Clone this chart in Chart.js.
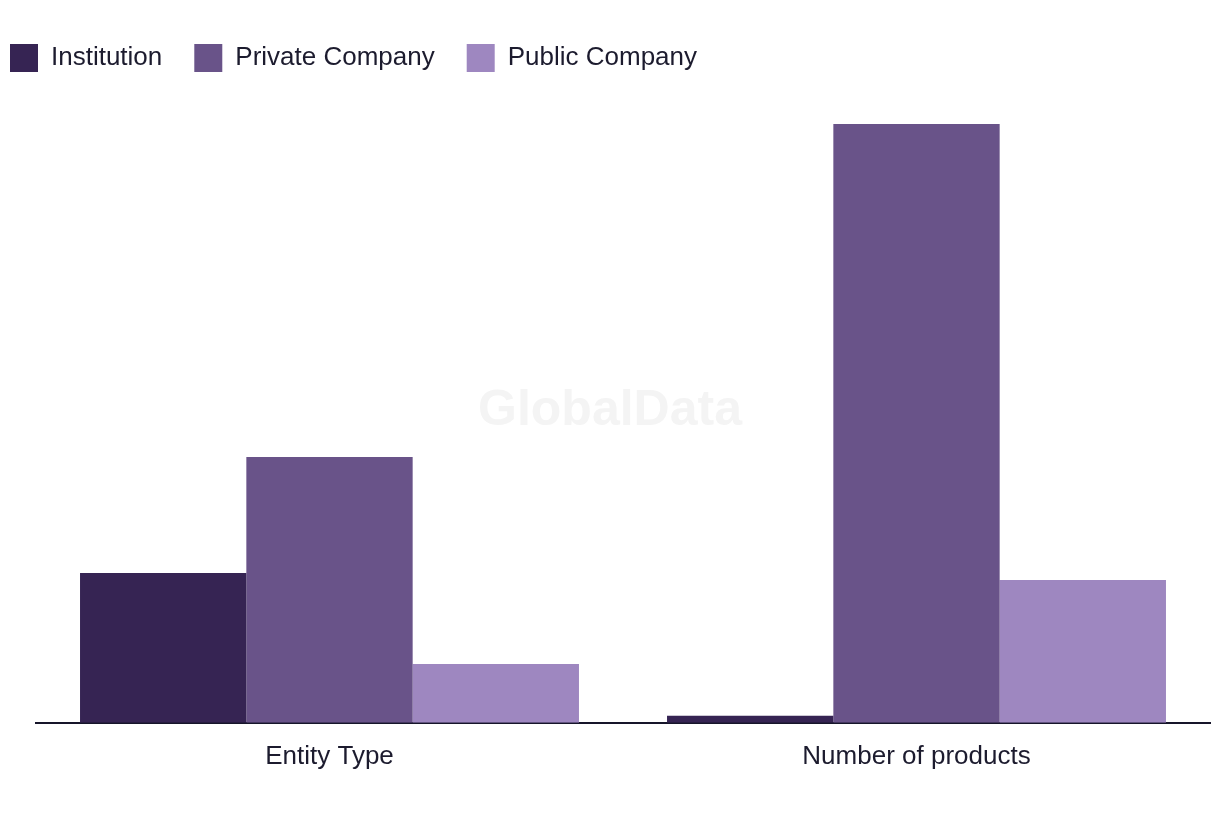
<!DOCTYPE html>
<html>
<head>
<meta charset="utf-8">
<script src="https://cdn.jsdelivr.net/npm/chart.js@4/dist/chart.umd.min.js"></script>
<style>
  html, body { margin: 0; padding: 0; background: #fff; }
  #wrap { width: 1220px; height: 820px; position: relative; }
</style>
</head>
<body>
<div id="wrap"><canvas id="entityChart"></canvas></div>
<script>
// categories and series (no axis shown so these are relative estimates)
const categories = ['Entity Type', 'Number of products'];
const seriesNames = ['Institution', 'Private Company', 'Public Company'];
const institution = [21.4, 1];
const privateCompany = [38, 85.6];
const publicCompany = [8.4, 20.4];

const colors = ['#362453', '#695389', '#9e87c0'];
const textColor = '#1c1b2e';

// faint watermark in the middle of the plot
const watermark = {
    id: 'watermark',
    beforeDatasetsDraw(chart) {
        const ctx = chart.ctx;
        ctx.save();
        ctx.font = 'bold 50px "Liberation Sans", Arial, sans-serif';
        ctx.fillStyle = '#f4f4f4';
        ctx.textAlign = 'center';
        ctx.textBaseline = 'middle';
        ctx.fillText('GlobalData', 610, 411);
        ctx.restore();
    }
};

document.addEventListener('DOMContentLoaded', function() {
    const allSeries = [institution, privateCompany, publicCompany];

    new Chart(document.getElementById('entityChart'), {
        type: 'bar',
        data: {
            labels: categories,
            datasets: seriesNames.map((name, i) => ({
                label: name,
                data: allSeries[i],
                backgroundColor: colors[i],
                borderWidth: 0,
                categoryPercentage: 0.85,
                barPercentage: 1.0
            }))
        },
        options: {
            responsive: true,
            maintainAspectRatio: false,
            animation: false,
            layout: {
                padding: { top: 12, left: -22, right: 10, bottom: 38 }
            },
            plugins: {
                legend: {
                    display: true,
                    position: 'top',
                    align: 'start',
                    labels: {
                        boxWidth: 28,
                        boxHeight: 28,
                        padding: 32,
                        color: textColor,
                        font: { family: '"Liberation Sans", Arial, sans-serif', size: 26 }
                    }
                },
                tooltip: { enabled: false }
            },
            scales: {
                x: {
                    grid: { display: false },
                    border: { display: true, color: '#16152a', width: 2 },
                    ticks: {
                        color: textColor,
                        padding: 10,
                        font: { family: '"Liberation Sans", Arial, sans-serif', size: 26 }
                    }
                },
                y: {
                    min: 0,
                    max: 91.6,
                    grid: { display: false },
                    border: { display: false },
                    ticks: { display: false },
                    afterFit: function(scale) { scale.width = 58; }
                }
            }
        },
        plugins: [watermark]
    });
});
</script>
</body>
</html>
